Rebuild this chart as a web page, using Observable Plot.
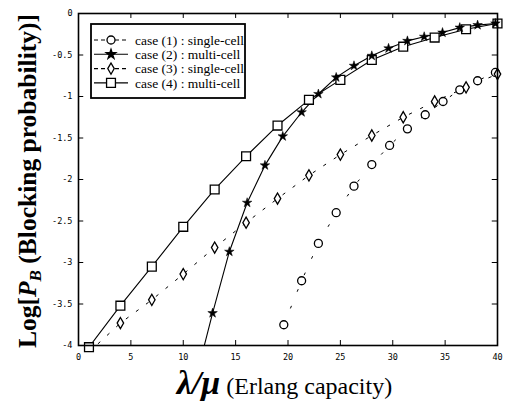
<!DOCTYPE html>
<html><head><meta charset="utf-8">
<script src="https://cdn.jsdelivr.net/npm/d3@7"></script>
<script src="https://cdn.jsdelivr.net/npm/@observablehq/plot@0.6"></script>
<style>body{margin:0;background:#fff}</style>
</head><body><div id="chart"></div>
<script>
const xTicks = [0,5,10,15,20,25,30,35,40];
const yTicks = [0,-0.5,-1,-1.5,-2,-2.5,-3,-3.5,-4];
const seriesNames = ["case (1) : single-cell","case (2) : multi-cell","case (3) : single-cell","case (4) : multi-cell"];
const case1X = [19.6,21.3,22.9,24.6,26.3,28.0,29.7,31.4,33.1,34.8,36.4,38.1,39.8];
const case1Y = [-3.75,-3.22,-2.77,-2.40,-2.08,-1.82,-1.59,-1.39,-1.22,-1.06,-0.92,-0.81,-0.71];
const case2X = [11.1,12.8,14.4,16.1,17.8,19.5,21.3,22.9,24.6,26.3,28.0,29.6,31.4,33.0,34.75,36.4,38.1,39.8];
const case2Y = [-4.45,-3.61,-2.87,-2.28,-1.83,-1.48,-1.19,-0.97,-0.77,-0.63,-0.51,-0.42,-0.33,-0.28,-0.23,-0.17,-0.14,-0.12];
const case3X = [1,4,7,10,13,16,19,22,25,28,31,34,37,40];
const case3Y = [-4.08,-3.73,-3.45,-3.14,-2.82,-2.52,-2.23,-1.95,-1.70,-1.47,-1.25,-1.06,-0.89,-0.73];
const case4X = [1,4,7,10,13,16,19,22,25,28,31,34,37,40];
const case4Y = [-4.02,-3.52,-3.05,-2.57,-2.12,-1.72,-1.35,-1.04,-0.80,-0.56,-0.40,-0.29,-0.19,-0.12];

(function () {
const pts = (xs, ys) => xs.map((x,i)=>({x, y: ys[i]}));
const d1 = pts(case1X, case1Y), d2 = pts(case2X, case2Y), d3s = pts(case3X, case3Y), d4 = pts(case4X, case4Y);
const inside = d => d.y >= -4.05;

const tickFont = "'DejaVu Sans Mono', monospace";
const plot = Plot.plot({
  width: 509, height: 403,
  marginLeft: 78, marginRight: 12, marginTop: 13, marginBottom: 58,
  x: {domain: [0, 40]},
  y: {domain: [-4, 0]},
  style: {fontFamily: tickFont, fontSize: "8.5px", color: "#000", background: "#fff"},
  marks: [
    Plot.axisX({ticks: xTicks, tickSize: 0, tickPadding: 8, tickFormat: d => String(d), fontSize: 8.5, label: null}),
    Plot.axisY({ticks: yTicks, tickSize: 0, tickPadding: 6, tickFormat: d => String(d), fontSize: 8.5, label: null}),
    Plot.ruleX(xTicks, {x: d => d, y1: -4, y2: -3.94, stroke: "#000", strokeWidth: 1}),
    Plot.ruleX(xTicks, {x: d => d, y1: 0, y2: -0.06, stroke: "#000", strokeWidth: 1}),
    Plot.ruleY(yTicks, {y: d => d, x1: 0, x2: 0.5, stroke: "#000", strokeWidth: 1}),
    Plot.ruleY(yTicks, {y: d => d, x1: 40, x2: 39.5, stroke: "#000", strokeWidth: 1}),
    Plot.line(d1, {x: "x", y: "y", stroke: "#000", strokeWidth: 1, strokeDasharray: "2,16", clip: true}),
    Plot.line(d3s, {x: "x", y: "y", stroke: "#000", strokeWidth: 1, strokeDasharray: "2.5,10", clip: true}),
    Plot.line(d4, {x: "x", y: "y", stroke: "#000", strokeWidth: 1.1, clip: true}),
    Plot.line(d2, {x: "x", y: "y", stroke: "#000", strokeWidth: 1.1, clip: true}),
    Plot.dot(d1, {x: "x", y: "y", symbol: "circle", r: 4, fill: "#fff", stroke: "#000", strokeWidth: 1.3}),
    Plot.dot(d3s.filter(inside), {x: "x", y: "y", symbol: "diamond", r: 3.4, fill: "#fff", stroke: "#000", strokeWidth: 1.3}),
    Plot.dot(d4.filter(inside), {x: "x", y: "y", symbol: "square", r: 5, fill: "#fff", stroke: "#000", strokeWidth: 1.3}),
    Plot.dot(d2.filter(inside), {x: "x", y: "y", symbol: "star", r: 3, fill: "#000", stroke: "#000", strokeWidth: 0.5}),
    Plot.frame({stroke: "#000", strokeWidth: 1.6})
  ]
});
document.getElementById("chart").appendChild(plot);

const svg = d3.select(plot);
const sx = plot.scale("x"), sy = plot.scale("y");
const pl = sx.apply(0), pr = sx.apply(40), pt = sy.apply(0), pb = sy.apply(-4);
const serif = "'Liberation Serif', 'Times New Roman', serif";

const yl = svg.append("text")
  .attr("transform", `translate(36,${(pt+pb)/2 + 2}) rotate(-90)`)
  .attr("text-anchor", "middle")
  .style("font-family", serif).style("font-weight", "bold").style("font-size", "25.5px").attr("fill", "#000");
yl.append("tspan").text("Log[");
yl.append("tspan").text("P").style("font-style", "italic");
yl.append("tspan").text("B").style("font-style", "italic").style("font-size", "17px").attr("dy", 5);
yl.append("tspan").text(" (Blocking probability)]").attr("dy", -5);

const xl = svg.append("text")
  .attr("x", (pl+pr)/2 - 3).attr("y", pb + 49)
  .attr("text-anchor", "middle")
  .style("font-family", serif).style("font-size", "24px").attr("fill", "#000");
xl.append("tspan").text("λ/μ").style("font-weight", "bold").style("font-style", "italic").style("font-size", "34px");
xl.append("tspan").text(" (Erlang capacity)");

const lg = svg.append("g").attr("transform", `translate(${pl+13},${pt+11})`);
lg.append("rect").attr("width", 154).attr("height", 74).attr("fill", "#fff").attr("stroke", "#000").attr("stroke-width", 1.8);
const specs = [
  {sym: d3.symbolCircle, r: 4, dash: "4,3", fill: "#fff"},
  {sym: d3.symbolStar, r: 3, dash: null, fill: "#000"},
  {sym: d3.symbolDiamond, r: 3.4, dash: "4,3", fill: "#fff"},
  {sym: d3.symbolSquare, r: 5, dash: null, fill: "#fff"}
];
seriesNames.forEach((name, i) => {
  const yy = 16 + i * 14.3;
  const s = specs[i];
  const ln = lg.append("line").attr("x1", 3).attr("x2", 37).attr("y1", yy).attr("y2", yy).attr("stroke", "#000").attr("stroke-width", 1.1);
  if (s.dash) ln.attr("stroke-dasharray", s.dash);
  lg.append("path").attr("d", d3.symbol(s.sym, Math.PI * s.r * s.r)()).attr("transform", `translate(20,${yy})`)
    .attr("fill", s.fill).attr("stroke", "#000").attr("stroke-width", 1.3);
  lg.append("text").attr("x", 44).attr("y", yy).attr("dy", "0.35em").attr("text-anchor", "start").text(name)
    .style("font-family", serif).style("font-size", "13.5px").attr("fill", "#000");
});
})();
</script></body></html>
